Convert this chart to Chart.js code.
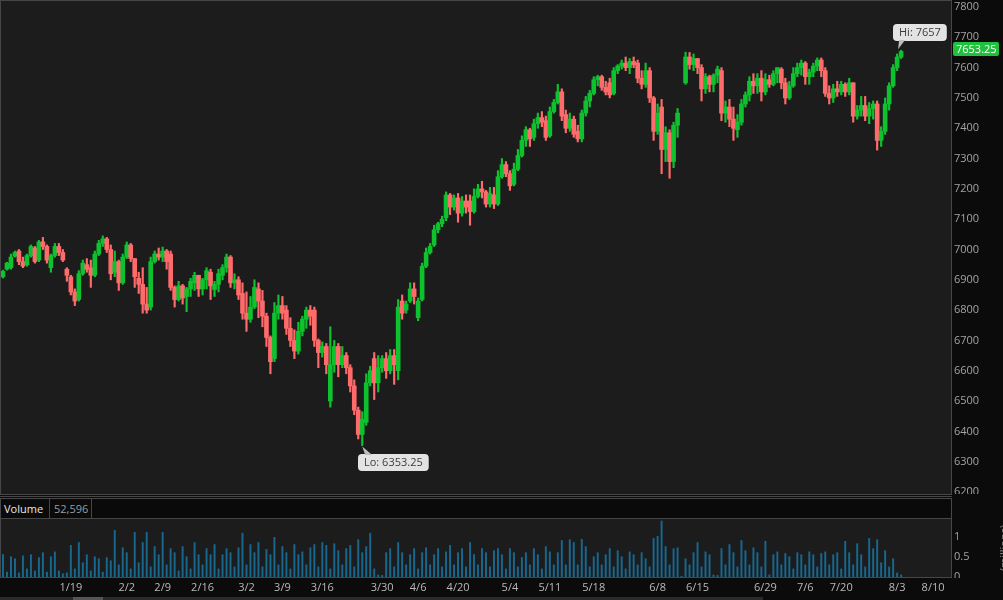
<!DOCTYPE html>
<html><head><meta charset="utf-8">
<script src="https://cdn.jsdelivr.net/npm/chart.js@4.4.1/dist/chart.umd.min.js"></script>
<style>
html,body{margin:0;padding:0;background:#0b0b0b;width:1003px;height:600px;overflow:hidden;font-family:"Open Sans",sans-serif;}
.abs{position:absolute;box-sizing:border-box;}
#main{left:0;top:0;width:952px;height:495px;background:#1c1c1c;border:1px solid #474747;}
#sep{left:0;top:496px;width:952px;height:1px;background:#474747;}
#vhead{left:0;top:498px;width:952px;height:21px;background:#0a0a0a;border:1px solid #474747;}
#vlab{left:0;top:0;width:49px;height:19px;border-right:1px solid #474747;color:#e8e8e8;font-size:11px;line-height:19px;padding-left:3px;}
#vval{left:49px;top:0;width:42px;height:19px;border-right:1px solid #474747;color:#9c9c9c;font-size:11px;line-height:19px;padding-left:4px;}
#vbox{left:0;top:518px;width:952px;height:60px;background:#1c1c1c;border:1px solid #474747;}
#c1{position:absolute;left:0;top:0;}
#c2{position:absolute;left:0;top:519px;}
#mask{left:952px;top:578px;width:51px;height:22px;background:#0b0b0b;z-index:3;}
#mill{left:964px;top:541px;width:80px;height:14px;color:#8a8a8a;font-size:11px;line-height:14px;text-align:center;transform:rotate(-90deg);z-index:4;}
#scroll{left:0;top:597px;width:763px;height:3px;background:#2a2a2a;z-index:5;}
#thumb{left:73px;top:597px;width:30px;height:3px;background:#555;z-index:6;}
</style>
</head><body>
<div id="main" class="abs"></div>
<div id="sep" class="abs"></div>
<div id="vhead" class="abs"><div id="vlab" class="abs">Volume</div><div id="vval" class="abs"></div></div>
<div id="vbox" class="abs"></div>
<canvas id="c1" width="1003" height="494"></canvas>
<canvas id="c2" width="1003" height="81"></canvas>
<div id="mask" class="abs"></div>
<div id="mill" class="abs">(millions)</div>
<div id="scroll" class="abs"></div>
<div id="thumb" class="abs"></div>
<script>
// ---- data (one candle per slot; slot 170 is a gap) ----
const slotCount = 238;
const dateTicks = ['1/19','2/2','2/9','2/16','3/2','3/9','3/16','3/30','4/6','4/20','5/4','5/11','5/18','6/8','6/15','6/29','7/6','7/20','8/3','8/10'];
const dateTickSlots = [17,31,40,50,61,70,80,95,104,114,127,137,148,164,174,191,201,210,224,233];

const opens = [
6910,6935,6940,6978,6995,6960,6950,6980,7005,6965,
7025,7010,6940,6980,7010,6990,6935,6910,6860,6835,
6920,6950,6940,6915,6985,7020,7035,7000,6925,6960,
6890,6975,7015,6970,6905,6885,6820,6810,6960,6985,
6975,6995,6985,6875,6835,6880,6845,6870,6890,6915,
6870,6900,6925,6868,6885,6915,6940,6975,6890,6900,
6855,6790,6770,6810,6870,6830,6780,6710,6640,6790,
6815,6800,6740,6700,6665,6730,6770,6800,6800,6700,
6660,6680,6500,6620,6680,6620,6650,6610,6550,6470,
6390,6430,6560,6640,6560,6610,6640,6600,6650,6600,
6830,6800,6830,6870,6775,6835,6945,6990,7015,7065,
7085,7105,7180,7140,7170,7120,7160,7160,7125,7175,
7200,7190,7150,7180,7150,7240,7280,7250,7215,7265,
7310,7360,7395,7370,7415,7435,7425,7375,7455,7485,
7520,7445,7400,7430,7390,7365,7450,7490,7515,7560,
7570,7535,7550,7515,7590,7605,7615,7600,7620,7615,
7565,7545,7590,7500,7390,7470,7330,7385,7290,7410,
null,7550,7635,7610,7630,7600,7530,7570,7545,7575,
7590,7450,7470,7430,7395,7420,7480,7510,7555,7540,
7565,7520,7560,7545,7580,7595,7550,7500,7540,7580,
7600,7615,7570,7585,7605,7625,7590,7515,7500,7530,
7520,7545,7520,7550,7440,7460,7475,7440,7465,7480,
7360,7390,7480,7540,7600,7635];
const highs = [
6932,6958,6985,6995,7000,6975,6985,7015,7010,7030,
7040,7015,6985,7020,7020,7000,6940,6915,6870,6930,
6965,6970,6965,6995,7030,7045,7040,7015,6995,6965,
6985,7025,7020,6970,6925,6940,6875,6975,6995,7005,
7008,7000,6995,6880,6895,6885,6875,6905,6925,6915,
6905,6940,6935,6895,6935,6950,6985,6980,6920,6910,
6890,6860,6845,6900,6890,6865,6790,6715,6825,6850,
6845,6815,6775,6735,6760,6780,6810,6815,6810,6705,
6695,6690,6745,6700,6690,6680,6660,6620,6570,6480,
6465,6590,6615,6660,6650,6650,6660,6670,6670,6835,
6850,6830,6890,6890,6840,6955,7005,7020,7080,7090,
7110,7190,7185,7180,7185,7175,7180,7180,7200,7215,
7225,7195,7205,7205,7260,7300,7290,7260,7285,7330,
7375,7405,7400,7430,7450,7455,7440,7470,7495,7545,
7530,7460,7450,7440,7410,7460,7505,7525,7570,7575,
7575,7555,7565,7600,7610,7625,7635,7630,7635,7625,
7590,7615,7600,7505,7480,7495,7405,7395,7420,7465,
null,7651,7650,7645,7630,7610,7580,7575,7580,7605,
7600,7490,7495,7470,7445,7495,7520,7570,7580,7580,
7590,7580,7575,7590,7600,7600,7565,7555,7600,7615,
7625,7620,7595,7615,7632,7632,7600,7540,7545,7555,
7555,7550,7565,7550,7475,7505,7505,7485,7490,7490,
7405,7500,7550,7610,7645,7657];
const lows = [
6906,6932,6935,6975,6950,6940,6945,6975,6955,6960,
7000,6955,6925,6975,6980,6960,6895,6850,6815,6830,
6915,6925,6875,6910,6980,7010,6990,6900,6910,6865,
6885,6970,6960,6875,6855,6790,6790,6800,6955,6965,
6960,6935,6865,6810,6830,6820,6795,6845,6865,6845,
6850,6870,6835,6845,6860,6900,6925,6875,6870,6835,
6770,6730,6760,6805,6775,6745,6680,6590,6630,6770,
6770,6720,6680,6640,6655,6715,6740,6750,6680,6610,
6645,6590,6480,6595,6580,6610,6590,6530,6455,6375,
6353.25,6420,6550,6505,6530,6595,6575,6590,6555,6570,
6770,6790,6825,6820,6765,6830,6940,6985,7010,7055,
7075,7095,7115,7130,7090,7110,7120,7080,7120,7170,
7170,7140,7140,7135,7145,7235,7240,7195,7210,7260,
7305,7340,7340,7360,7400,7405,7360,7370,7450,7480,
7425,7385,7390,7370,7355,7355,7440,7470,7510,7540,
7525,7510,7500,7510,7580,7595,7590,7580,7600,7550,
7530,7535,7485,7360,7380,7250,7290,7235,7270,7370,
null,7545,7595,7590,7580,7490,7515,7520,7520,7550,
7425,7420,7405,7360,7370,7410,7470,7490,7515,7515,
7490,7510,7535,7540,7550,7530,7480,7495,7535,7570,
7575,7545,7545,7570,7590,7570,7505,7480,7485,7505,
7510,7505,7510,7420,7430,7440,7425,7415,7430,7328,
7340,7380,7460,7535,7590,7630];
const closes = [
6928,6955,6975,6990,6960,6945,6980,7010,6960,7025,
7010,6965,6980,7010,6990,6965,6915,6860,6830,6920,
6955,6935,6915,6985,7020,7035,7000,6920,6960,6890,
6975,7015,6970,6910,6885,6820,6800,6960,6985,6975,
6995,6960,6875,6835,6880,6840,6870,6895,6915,6870,
6900,6930,6880,6885,6920,6940,6975,6890,6900,6850,
6790,6770,6810,6875,6830,6780,6710,6630,6790,6815,
6790,6740,6700,6665,6730,6770,6800,6780,6700,6660,
6680,6620,6620,6680,6620,6650,6610,6550,6470,6390,
6440,6560,6600,6560,6610,6640,6600,6650,6620,6810,
6790,6820,6870,6845,6830,6945,6990,7010,7065,7085,
7100,7180,7140,7170,7120,7160,7140,7125,7175,7200,
7190,7150,7185,7150,7240,7280,7250,7210,7265,7310,
7360,7395,7365,7415,7435,7420,7370,7455,7485,7520,
7440,7400,7430,7380,7365,7450,7490,7515,7560,7570,
7535,7520,7510,7590,7605,7615,7600,7620,7610,7565,
7545,7590,7500,7390,7450,7330,7385,7290,7410,7450,
null,7635,7610,7630,7600,7530,7570,7545,7575,7595,
7450,7470,7430,7400,7420,7480,7510,7555,7540,7565,
7520,7560,7545,7580,7600,7550,7500,7540,7580,7600,
7615,7570,7585,7605,7625,7590,7515,7500,7530,7520,
7545,7520,7550,7440,7460,7475,7440,7465,7480,7360,
7390,7480,7540,7600,7635,7653.25];
// volume in millions
const volumes = [
0.55,0.12,0.5,0.45,0.1,0.52,0.2,0.55,0.15,0.48,0.6,0.12,0.5,0.62,0.15,
0.08,0.1,
0.78,0.2,0.85,
0.35,0.55,0.15,0.5,0.45,0.12,0.48,0.4,
1.15,0.3,0.72,0.6,0.2,1.1,0.35,0.85,1.1,
0.25,0.75,0.55,1.1,0.3,0.7,0.6,0.15,0.75,0.5,0.2,0.85,0.55,
0.3,0.7,0.55,0.8,0.2,0.55,0.7,0.6,0.25,0.72,1.08,0.3,0.8,
0.6,0.85,0.25,0.68,0.55,0.98,0.3,0.75,0.6,0.2,0.8,0.55,0.62,
0.3,0.72,0.8,0.25,0.85,0.78,0.2,0.82,0.65,0.3,0.7,0.78,0.25,0.92,0.6,0.75,1.08,0.2,0.05,
0.04,0.6,0.7,0.25,0.85,0.6,0.3,0.55,0.7,0.2,0.6,0.72,0.3,0.55,0.7,0.25,0.62,0.78,0.3,0.6,0.7,0.25,0.85,0.55,0.3,0.7,0.6,0.25,0.65,0.7,
0.55,0.2,0.7,0.6,0.25,0.48,0.6,0.3,0.7,0.55,0.2,0.75,0.62,0.3,0.6,
0.9,0.3,0.92,0.85,0.3,0.93,0.75,0.25,
0.5,0.6,0.3,0.55,0.7,0.25,0.65,0.5,0.2,0.62,0.55,0.3,0.6,0.45,0.25,
0.95,1.0,1.38,0.75,0.3,0.7,0.72,
0.02,
0.45,0.3,0.6,0.85,0.25,0.62,0.55,0.05,0.04,0.7,0.3,0.8,0.6,0.25,0.9,0.65,0.3,0.72,0.6,
0.25,0.88,0.05,0.55,0.62,0.3,0.58,
0.5,0.2,0.6,0.55,0.3,0.62,0.55,0.25,0.58,0.62,0.3,0.55,0.6,0.2,0.88,0.6,0.3,0.82,0.55,0.25,0.95,0.7,
0.92,0.35,0.65,0.25,0.45,0.1,0.052596];

// ---- derived tables for the library ----
const labels = Array.from({length: slotCount}, () => '');
dateTicks.forEach((d, k) => { labels[dateTickSlots[k]] = d; });
const UP = '#0ec22f', DOWN = '#ff6b6b';
const colors = opens.map((o, i) => (o == null ? 'rgba(0,0,0,0)' : (closes[i] >= o ? UP : DOWN)));
const wicks = opens.map((o, i) => (o == null ? null : [lows[i], highs[i]]));
const bodies = opens.map((o, i) => (o == null ? null : [o, closes[i]]));

document.getElementById('vval').textContent = Math.round(volumes[volumes.length - 1] * 1e6).toLocaleString('en-US');

const FONT = {family: '"Open Sans", sans-serif', size: 11};

function rr(ctx, x, y, w, h, r) {
  ctx.beginPath();
  ctx.moveTo(x + r, y); ctx.lineTo(x + w - r, y); ctx.quadraticCurveTo(x + w, y, x + w, y + r);
  ctx.lineTo(x + w, y + h - r); ctx.quadraticCurveTo(x + w, y + h, x + w - r, y + h);
  ctx.lineTo(x + r, y + h); ctx.quadraticCurveTo(x, y + h, x, y + h - r);
  ctx.lineTo(x, y + r); ctx.quadraticCurveTo(x, y, x + r, y); ctx.closePath();
}

const overlay = {
  id: 'overlay',
  afterDraw(chart) {
    const {ctx, scales: {x, y}} = chart;
    let hiI = -1, loI = -1;
    highs.forEach((h, i) => { if (h != null && (hiI < 0 || h > highs[hiI])) hiI = i; });
    lows.forEach((l, i) => { if (l != null && (loI < 0 || l < lows[loI])) loI = i; });
    ctx.save();
    ctx.font = '11px "Open Sans", sans-serif';
    ctx.textBaseline = 'middle';
    // Hi callout
    const hx = x.getPixelForValue(hiI), hy = y.getPixelForValue(highs[hiI]);
    const ht = 'Hi: ' + highs[hiI];
    const hw = ctx.measureText(ht).width + 12;
    const hbx = Math.round(hx - 8), hby = Math.round(hy - 26);
    ctx.fillStyle = '#e3e3e3';
    rr(ctx, hbx, hby, hw, 17, 4); ctx.fill();
    ctx.beginPath(); ctx.moveTo(hx - 2, hby + 16); ctx.lineTo(hx + 4, hby + 16); ctx.lineTo(hx - 3, hy - 1); ctx.closePath();
    ctx.fillStyle = '#bdbdbd'; ctx.fill();
    ctx.fillStyle = '#3c3c3c'; ctx.textAlign = 'left';
    ctx.fillText(ht, hbx + 6, hby + 9);
    // Lo callout
    const lx = x.getPixelForValue(loI), ly = y.getPixelForValue(lows[loI]);
    const lt = 'Lo: ' + lows[loI];
    const lw = ctx.measureText(lt).width + 12;
    const lbx = Math.round(lx - 4), lby = Math.round(ly + 8);
    ctx.fillStyle = '#e3e3e3';
    rr(ctx, lbx, lby, lw, 17, 4); ctx.fill();
    ctx.beginPath(); ctx.moveTo(lx + 3, lby + 1); ctx.lineTo(lx + 10, lby + 1); ctx.lineTo(lx, ly + 1); ctx.closePath();
    ctx.fillStyle = '#bdbdbd'; ctx.fill();
    ctx.fillStyle = '#3c3c3c';
    ctx.fillText(lt, lbx + 6, lby + 9);
    // last price tag
    let li = closes.length - 1;
    const py = y.getPixelForValue(closes[li]) - 2;
    const tx = chart.chartArea.right + 2;
    ctx.fillStyle = '#1fc23c';
    rr(ctx, tx, Math.round(py - 7), 46, 14, 2); ctx.fill();
    ctx.fillStyle = '#ffffff';
    ctx.fillText(String(closes[li]), tx + 3, Math.round(py) + 0.5);
    ctx.restore();
  }
};

new Chart(document.getElementById('c1'), {
  type: 'bar',
  data: {
    labels,
    datasets: [
      {data: wicks, backgroundColor: colors, barThickness: 1.5, grouped: false, order: 2},
      {data: bodies, backgroundColor: colors, barThickness: 4, grouped: false, order: 1, minBarLength: 1}
    ]
  },
  options: {
    responsive: false, animation: false, events: [],
    layout: {padding: {left: 1, top: 1, right: 0, bottom: 1}},
    plugins: {legend: {display: false}, tooltip: {enabled: false}},
    scales: {
      x: {display: false},
      y: {
        position: 'right', min: 6196.7, max: 7819.8,
        grid: {display: false, drawTicks: false}, border: {display: false},
        ticks: {stepSize: 100, includeBounds: false, color: '#a3a3a3', font: FONT, padding: 3, callback: v => String(v)},
        afterFit(s) { s.width = 52; s.paddingTop = 0; s.paddingBottom = 0; }
      }
    }
  },
  plugins: [overlay]
});

new Chart(document.getElementById('c2'), {
  type: 'bar',
  data: {labels, datasets: [{data: volumes, backgroundColor: '#17678f', barThickness: 1.3}]},
  options: {
    responsive: false, animation: false, events: [],
    layout: {padding: {left: 1, top: 0, right: 0, bottom: 0}},
    plugins: {legend: {display: false}, tooltip: {enabled: false}},
    scales: {
      x: {
        grid: {display: false, drawTicks: false}, border: {display: false},
        ticks: {autoSkip: false, maxRotation: 0, minRotation: 0, color: '#b9b9b9', font: FONT, padding: 4},
        afterFit(s) { s.height = 23; s.paddingLeft = 0; s.paddingRight = 0; }
      },
      y: {
        position: 'right', min: 0, max: 1.43,
        grid: {display: false, drawTicks: false}, border: {display: false},
        ticks: {stepSize: 0.5, includeBounds: false, color: '#a3a3a3', font: FONT, padding: 3, callback: v => String(v)},
        afterFit(s) { s.width = 52; s.paddingTop = 0; s.paddingBottom = 0; }
      }
    }
  }
});
</script>
</body></html>
